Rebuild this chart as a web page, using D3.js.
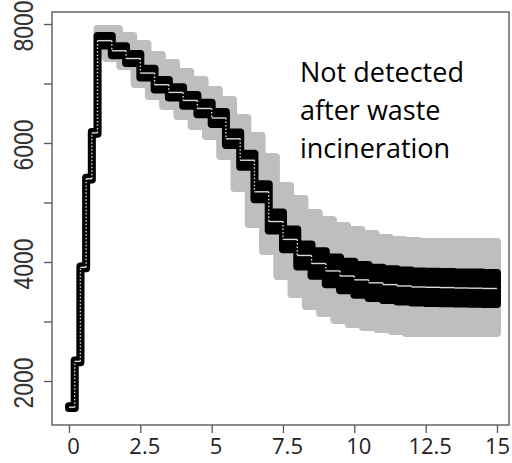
<!DOCTYPE html>
<html>
<head>
<meta charset="utf-8">
<script src="https://d3js.org/d3.v7.min.js"></script>
<style>
  html, body { margin: 0; padding: 0; background: #fff; }
  svg { display: block; }
</style>
</head>
<body>
<script>
// ---- data ----
const times = [0,0.2,0.4,0.6,0.8,1,1.5,2,2.5,3,3.5,4,4.5,5,5.5,6,6.5,7,7.5,8,8.5,9,9.5,10,10.5,11,11.5,12,12.5,13,13.5,14,14.5];
const endTime = 15;
const median = [1560,2330,3910,5400,6170,7720,7550,7420,7175,6980,6850,6715,6580,6420,6070,5710,5180,4680,4380,4110,3975,3850,3765,3700,3650,3620,3597,3580,3575,3570,3563,3560,3555];
const innerHigh = [1575,2345,3925,5415,6185,7800,7625,7495,7250,7060,6935,6805,6675,6520,6175,5820,5305,4830,4545,4295,4180,4075,4005,3950,3905,3878,3857,3842,3837,3832,3825,3822,3817];
const innerLow = [1545,2315,3895,5385,6155,7640,7475,7345,7100,6900,6765,6625,6485,6320,5965,5600,5055,4530,4215,3925,3770,3625,3525,3450,3395,3362,3337,3318,3313,3308,3301,3298,3293];
const outerHigh = [1575,2345,3925,5415,6185,7916,7798,7664,7479,7344,7193,7059,6891,6723,6420,6118,5765,5277,5059,4824,4706,4605,4538,4471,4403,4370,4353,4336,4336,4336,4336,4336,4336];
const outerLow = [1545,2315,3895,5385,6155,7530,7429,7294,6992,6790,6622,6454,6286,6118,5782,5244,4639,4185,3765,3462,3261,3143,3025,2958,2908,2874,2840,2807,2807,2807,2807,2807,2807];
const outerHighLag = 0.25;   // upper envelope steps down later
const outerLowLead = -0.2;   // lower envelope steps down earlier
const xTicks = [0,2.5,5,7.5,10,12.5,15];
const xTickLabels = ["0","2.5","5","7.5","10","12.5","15"];
const yTicks = [2000,3000,4000,5000,6000,7000,8000];
const yTickLabels = ["2000","","4000","","6000","","8000"];
const annotation = ["Not detected","after waste","incineration"];

// ---- layout ----
const W = 512, H = 463;
const x = d3.scaleLinear().domain([0, 15]).range([69, 497]);
const y = d3.scaleLinear().domain([2000, 8000]).range([381, 24]);
const frame = {left: 52, right: 509, top: 12, bottom: 425};

const svg = d3.select("body").append("svg").attr("width", W).attr("height", H);

function stairs(ts, vs, shift) {
  const pts = [];
  const n = ts.length;
  for (let i = 0; i < n; i++) {
    const t0 = Math.max(0, Math.min(endTime, shift(ts[i])));
    const t1 = i + 1 < n ? Math.max(0, Math.min(endTime, shift(ts[i + 1]))) : endTime;
    pts.push([t0, vs[i]], [t1, vs[i]]);
  }
  return pts;
}
const line = d3.line().x(d => x(d[0])).y(d => y(d[1]));
function band(hi, lo, shiftHi, shiftLo) {
  const up = stairs(times, hi, shiftHi);
  const dn = stairs(times, lo, shiftLo).reverse();
  return line(up.concat(dn)) + "Z";
}
const noShift = t => t;

// grey (outer) envelope
svg.append("path")
  .attr("d", band(outerHigh, outerLow,
    t => t > 1 ? t + outerHighLag : t,
    t => t > 1 ? t + outerLowLead : t))
  .attr("fill", "#bebebe").attr("stroke", "#bebebe")
  .attr("stroke-width", 8).attr("stroke-linejoin", "round");

// black (inner) band
svg.append("path")
  .attr("d", band(innerHigh, innerLow, noShift, noShift))
  .attr("fill", "#000").attr("stroke", "#000")
  .attr("stroke-width", 8).attr("stroke-linejoin", "round");

// median: horizontal pieces solid, vertical risers dotted
const med = svg.append("g").attr("stroke", "#d9d9d9").attr("fill", "none");
times.forEach((t, i) => {
  const t1 = i + 1 < times.length ? times[i + 1] : endTime;
  med.append("line")
    .attr("x1", x(t)).attr("x2", x(t1))
    .attr("y1", y(median[i])).attr("y2", y(median[i]))
    .attr("stroke-width", 1.4);
  if (i + 1 < times.length) {
    med.append("line")
      .attr("x1", x(t1)).attr("x2", x(t1))
      .attr("y1", y(median[i])).attr("y2", y(median[i + 1]))
      .attr("stroke-width", 1.4).attr("stroke-dasharray", "1.5,2");
  }
});

// frame
svg.append("rect")
  .attr("x", frame.left).attr("y", frame.top)
  .attr("width", frame.right - frame.left).attr("height", frame.bottom - frame.top)
  .attr("fill", "none").attr("stroke", "#666").attr("stroke-width", 1.5);

// x axis
const xAxis = svg.append("g").attr("transform", `translate(0,${frame.bottom})`)
  .call(d3.axisBottom(x).tickValues(xTicks).tickSize(8).tickFormat((d, i) => xTickLabels[i]));
xAxis.select(".domain").remove();
xAxis.selectAll(".tick line").attr("stroke", "#555").attr("stroke-width", 1.3);
xAxis.selectAll(".tick text")
  .attr("font-family", "'Open Sans', sans-serif").attr("font-size", 22)
  .attr("fill", "#222").attr("dx", (d, i) => i === xTicks.length - 1 ? 0 : 4).attr("y", 13);

// y axis
const yAxis = svg.append("g").attr("transform", `translate(${frame.left},0)`)
  .call(d3.axisLeft(y).tickValues(yTicks).tickSize(8).tickFormat(""));
yAxis.select(".domain").remove();
yAxis.selectAll(".tick line").attr("stroke", "#555").attr("stroke-width", 1.3);
svg.append("g").selectAll("text")
  .data(yTicks.map((v, i) => [v, yTickLabels[i]]).filter(d => d[1] !== ""))
  .join("text")
  .attr("transform", d => `translate(33,${y(d[0]) + 2}) scale(1.2,1) rotate(-90)`)
  .attr("text-anchor", "middle")
  .attr("font-family", "'Liberation Sans', Arial, sans-serif").attr("font-size", 23)
  .attr("fill", "#333")
  .text(d => d[1]);

// annotation
svg.append("g").selectAll("text").data(annotation).join("text")
  .attr("x", 300).attr("y", (d, i) => 82 + i * 38)
  .attr("font-family", "'Open Sans', sans-serif").attr("font-size", 27)
  .attr("fill", "#000")
  .text(d => d);
</script>
</body>
</html>
